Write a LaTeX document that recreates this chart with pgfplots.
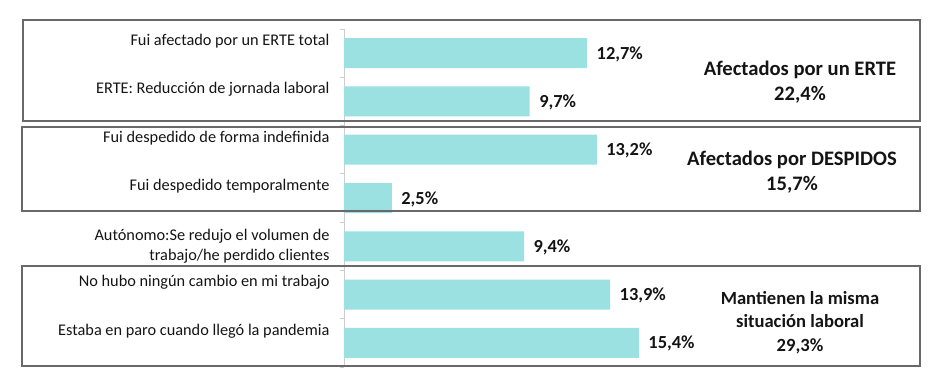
\documentclass[border=0pt]{standalone}
\usepackage{pgfplots}
\pgfplotsset{compat=1.18}
\usepackage{fontspec}
\setmainfont{Carlito}
\definecolor{barc}{RGB}{155,225,225}
\definecolor{boxc}{RGB}{105,105,105}
\definecolor{axc}{RGB}{205,205,205}
\definecolor{txt}{RGB}{20,20,20}
\begin{document}
\begin{tikzpicture}[x=1pt,y=1pt]
\useasboundingbox (0,0) rectangle (940,374);
\begin{axis}[
  at={(344pt,7pt)}, anchor=south west,
  scale only axis, width=576pt, height=338pt,
  xbar, bar width=30pt,
  xmin=0, xmax=30.08,
  ymin=-0.5, ymax=6.5, y dir=reverse,
  axis x line=none,
  axis y line*=left,
  axis line style={axc, line width=0.8pt, -},
  ytick={-0.5,0.5,...,6.5}, yticklabels={},
  tick align=outside, major tick length=4pt,
  tick style={axc, line width=0.8pt},
  /pgf/number format/assume math mode=true,
  nodes near coords={\pgfmathprintnumber[fixed,fixed zerofill,precision=1,use comma]{\pgfplotspointmeta}\%},
  point meta=explicit,
  every node near coord/.append style={font=\bfseries\fontsize{18.4}{18.4}\selectfont, text=txt, anchor=west, xshift=6pt, yshift=-1pt},
  clip=false,
]
\addplot[fill=barc, draw=none] coordinates {
  (12.7,0) [12.7]
  (9.7,1) [9.7]
  (13.2,2) [13.2]
  (2.5,3) [2.5]
  (9.4,4) [9.4]
  (13.9,5) [13.9]
  (15.4,6) [15.4]
};
\begin{scope}[every node/.style={anchor=east, align=right, text=txt, font=\fontsize{16.3}{20}\selectfont, xshift=-11pt}]
\node[yshift=12pt] at (axis cs:0,0) {Fui afectado por un ERTE total};
\node[yshift=12pt] at (axis cs:0,1) {ERTE: Reducción de jornada laboral};
\node[yshift=12pt] at (axis cs:0,2) {Fui despedido de forma indefinida};
\node[yshift=12pt] at (axis cs:0,3) {Fui despedido temporalmente};
\node[yshift=0pt] at (axis cs:0,4) {Autónomo:Se redujo el volumen de\\trabajo/he perdido clientes};
\node[yshift=12pt] at (axis cs:0,5) {No hubo ningún cambio en mi trabajo};
\node[yshift=12pt] at (axis cs:0,6) {Estaba en paro cuando llegó la pandemia};
\end{scope}
\end{axis}
\draw[boxc, line width=1.2pt] (23,253) rectangle (920,354);
\draw[boxc, line width=1.2pt] (22,163) rectangle (920,247);
\draw[boxc, line width=1.2pt] (22,8) rectangle (920,108);
\begin{scope}[every node/.style={align=center, text=txt, font=\bfseries\fontsize{20.6}{25}\selectfont}]
\node at (800,292) {Afectados por un ERTE\\22,4\%};
\node at (792,201.5) {Afectados por DESPIDOS\\15,7\%};
\node[font=\bfseries\fontsize{18.6}{23.5}\selectfont] at (800,51.3) {Mantienen la misma\\situación laboral\\29,3\%};
\end{scope}
\end{tikzpicture}
\end{document}
